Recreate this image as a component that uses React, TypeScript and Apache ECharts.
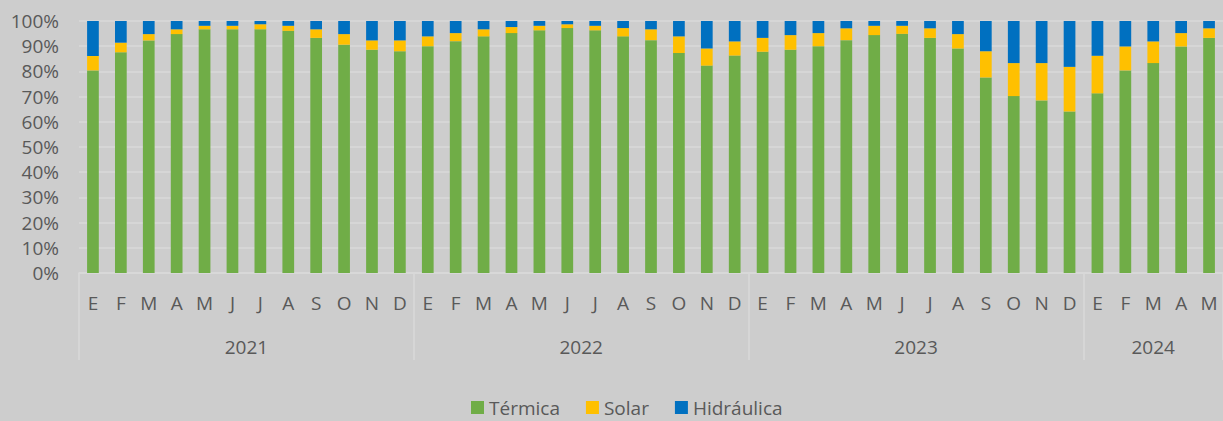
import React, { useEffect, useRef } from "react";
import * as echarts from "echarts";

const months = [
  "E","F","M","A","M","J","J","A","S","O","N","D",
  "E","F","M","A","M","J","J","A","S","O","N","D",
  "E","F","M","A","M","J","J","A","S","O","N","D",
  "E","F","M","A","M",
];
const years = ["2021", "2022", "2023", "2024"];
const yearSpans = [12, 12, 12, 5];

const termica = [
  80.4, 87.6, 92.3, 94.8, 96.7, 96.7, 96.7, 96.1, 93.3, 90.6, 88.6, 88.0,
  90.0, 92.0, 93.9, 95.2, 96.3, 97.2, 96.3, 93.9, 92.4, 87.3, 82.3, 86.3,
  87.8, 88.6, 90.0, 92.4, 94.4, 94.9, 93.3, 89.1, 77.6, 70.2, 68.5, 64.1,
  71.3, 80.4, 83.3, 89.9, 93.3,
];
const solar = [
  5.7, 3.8, 2.5, 1.9, 1.4, 1.4, 2.0, 2.0, 3.4, 4.2, 3.7, 4.3,
  3.9, 3.2, 2.8, 2.4, 1.8, 1.5, 1.8, 3.3, 4.3, 6.6, 6.8, 5.6,
  5.5, 5.8, 5.2, 4.7, 3.7, 3.2, 3.8, 5.7, 10.4, 13.1, 14.8, 17.7,
  14.9, 9.5, 8.6, 5.3, 3.8,
];
const hidraulica = [
  13.9, 8.6, 5.2, 3.3, 1.9, 1.9, 1.3, 1.9, 3.3, 5.2, 7.7, 7.7,
  6.1, 4.8, 3.3, 2.4, 1.9, 1.3, 1.9, 2.8, 3.3, 6.1, 10.9, 8.1,
  6.7, 5.6, 4.8, 2.9, 1.9, 1.9, 2.9, 5.2, 12.0, 16.7, 16.7, 18.2,
  13.8, 10.1, 8.1, 4.8, 2.9,
];

export default function App() {
  const ref = useRef<HTMLDivElement>(null);
  useEffect(() => {
    if (!ref.current) return;
    const chart = echarts.init(ref.current, null, { renderer: "svg" });

    // half-month positions for the year grouping axis
    const total = yearSpans.reduce((a, b) => a + b, 0) * 2;
    const halfSlots: string[] = [];
    const tickIdx = new Set<number>();
    const labelAt: Record<number, string> = {};
    let acc = 0;
    yearSpans.forEach((span, i) => {
      tickIdx.add(acc * 2);
      labelAt[acc * 2 + span] = years[i];
      acc += span;
    });
    tickIdx.add(total);
    for (let k = 0; k <= total; k++) halfSlots.push(labelAt[k] || "");

    const font = "'Open Sans', sans-serif";
    const textColor = "#595959";

    chart.setOption({
      animation: false,
      backgroundColor: "#CDCDCD",
      textStyle: { fontFamily: font },
      grid: { left: 79, top: 21, width: 1146, bottom: 148, containLabel: false },
      legend: {
        data: ["Térmica", "Solar", "Hidráulica"],
        left: 471,
        top: 398,
        padding: 0,
        icon: "rect",
        itemWidth: 13,
        itemHeight: 13,
        itemGap: 26,
        textStyle: {
          fontSize: 19,
          lineHeight: 13,
          height: 13,
          color: textColor,
          fontFamily: font,
        },
      },
      xAxis: [
        {
          type: "category",
          data: months,
          axisLine: { show: true, lineStyle: { color: "#D9D9D9", width: 1.5 } },
          axisTick: { show: false },
          axisLabel: { interval: 0, fontSize: 19, color: textColor, margin: 20, fontFamily: font },
          splitLine: { show: false },
        },
        {
          type: "category",
          data: halfSlots,
          boundaryGap: false,
          position: "bottom",
          axisLine: { show: false },
          axisTick: {
            show: true,
            interval: (idx: number) => tickIdx.has(idx),
            length: 87,
            lineStyle: { color: "#D9D9D9", width: 1.5 },
          },
          axisLabel: {
            interval: (idx: number, val: string) => val !== "",
            fontSize: 19,
            color: textColor,
            margin: 64,
            fontFamily: font,
          },
          splitLine: { show: false },
        },
      ],
      yAxis: {
        type: "value",
        min: 0,
        max: 100,
        interval: 10,
        axisLine: { show: false },
        axisTick: { show: false },
        axisLabel: { formatter: "{value}%", fontSize: 19, color: textColor, margin: 20, fontFamily: font },
        splitLine: { lineStyle: { color: "#D9D9D9", width: 1.5 } },
      },
      series: [
        { name: "Térmica", type: "bar", stack: "t", data: termica, barWidth: "42%", itemStyle: { color: "#70AD47" } },
        { name: "Solar", type: "bar", stack: "t", data: solar, barWidth: "42%", itemStyle: { color: "#FFC000" } },
        { name: "Hidráulica", type: "bar", stack: "t", data: hidraulica, barWidth: "42%", itemStyle: { color: "#0070C0" } },
      ],
    });
    return () => chart.dispose();
  }, []);
  return (
    <div
      ref={ref}
      style={{ position: "absolute", left: 0, top: 0, width: 1223, height: 421 }}
    />
  );
}
